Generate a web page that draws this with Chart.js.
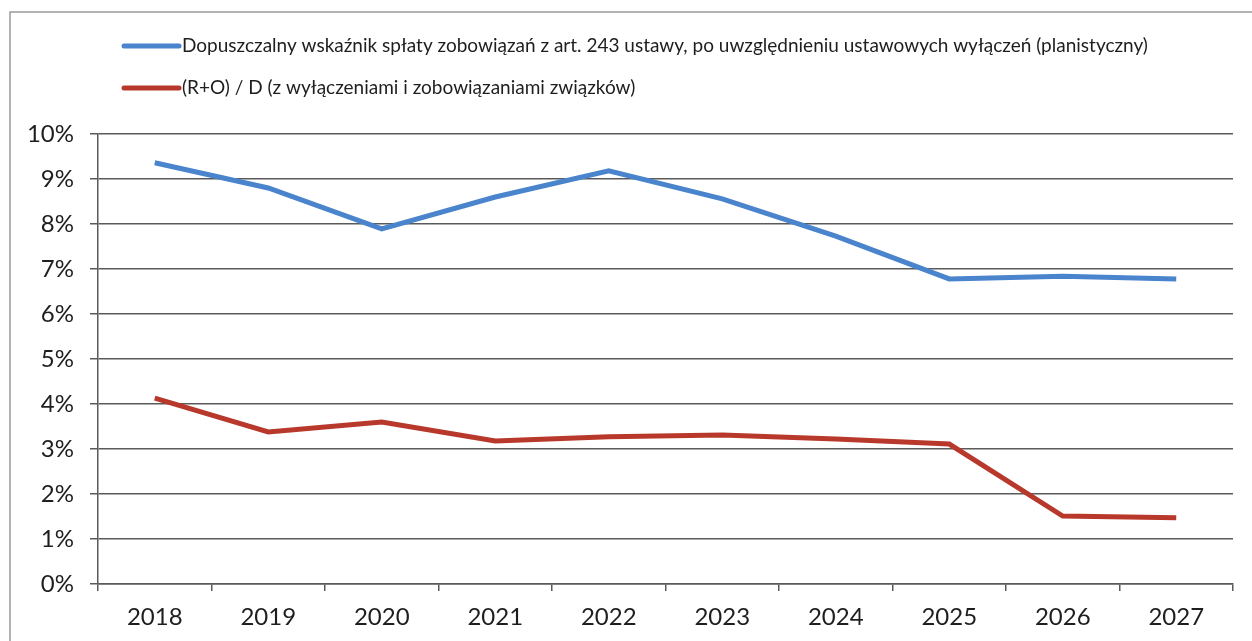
<!DOCTYPE html>
<html>
<head>
<meta charset="utf-8">
<script src="https://cdn.jsdelivr.net/npm/chart.js@4.4.1/dist/chart.umd.min.js"></script>
<style>
  html, body { margin: 0; padding: 0; background: #fff; }
  #wrap { width: 1252px; height: 641px; }
</style>
</head>
<body>
<div id="wrap"><canvas id="lineChart" aria-label="Line Chart"></canvas></div>
<script>
const years = ['2018', '2019', '2020', '2021', '2022', '2023', '2024', '2025', '2026', '2027'];
const allowedRatio = [9.36, 8.80, 7.89, 8.60, 9.18, 8.56, 7.73, 6.78, 6.84, 6.78];
const actualRatio = [4.13, 3.38, 3.60, 3.18, 3.27, 3.31, 3.22, 3.11, 1.51, 1.47];
const seriesNames = [
  'Dopuszczalny wskaźnik spłaty zobowiązań z art. 243 ustawy, po uwzględnieniu ustawowych wyłączeń (planistyczny)',
  '(R+O) / D (z wyłączeniami i zobowiązaniami związków)'
];
const yTicks = [0, 1, 2, 3, 4, 5, 6, 7, 8, 9, 10];

const blue = '#4a84cc';
const red = '#b8392c';
const gridColor = '#5a5a5a';
const textColor = '#1e1e1e';
const fontFamily = 'Lato, "Open Sans", sans-serif';

// legend rows and the frame around the chart
const legendPlugin = {
  id: 'legendRows',
  afterDraw(chart) {
    const ctx = chart.ctx;
    ctx.save();
    ctx.strokeStyle = '#9a9a9a';
    ctx.lineWidth = 1.5;
    ctx.beginPath();
    ctx.moveTo(10, 641);
    ctx.lineTo(10, 12);
    ctx.lineTo(1252, 12);
    ctx.stroke();

    const rows = [46, 88];
    chart.data.datasets.forEach((ds, i) => {
      const y = rows[i];
      ctx.strokeStyle = ds.borderColor;
      ctx.lineWidth = 5;
      ctx.lineCap = 'round';
      ctx.beginPath();
      ctx.moveTo(124, y);
      ctx.lineTo(179, y);
      ctx.stroke();
      ctx.fillStyle = textColor;
      ctx.font = '19px ' + fontFamily;
      ctx.textBaseline = 'middle';
      ctx.textAlign = 'left';
      ctx.fillText(ds.label, 182, y);
    });
    ctx.restore();
  }
};

new Chart(document.getElementById('lineChart'), {
  type: 'line',
  data: {
    labels: years,
    datasets: [
      {
        label: seriesNames[0],
        data: allowedRatio,
        borderColor: blue,
        backgroundColor: blue,
        borderWidth: 5,
        pointRadius: 0,
        tension: 0,
      },
      {
        label: seriesNames[1],
        data: actualRatio,
        borderColor: red,
        backgroundColor: red,
        borderWidth: 5,
        pointRadius: 0,
        tension: 0,
      },
    ],
  },
  options: {
    responsive: true,
    maintainAspectRatio: false,
    animation: false,
    layout: { padding: { top: 134, right: 19, left: 0, bottom: 0 } },
    plugins: {
      legend: { display: false },
      tooltip: { enabled: false },
    },
    scales: {
      x: {
        offset: true,
        afterFit: (s) => { s.height = 57; },
        grid: {
          offset: true,
          drawOnChartArea: false,
          drawTicks: true,
          tickLength: 7,
          color: gridColor,
          lineWidth: 1.5,
        },
        border: { display: true, color: gridColor, width: 1.5 },
        ticks: {
          color: textColor,
          font: { family: fontFamily, size: 24 },
          padding: 12,
          maxRotation: 0,
        },
      },
      y: {
        min: 0,
        max: 10,
        afterFit: (s) => { s.width = 98; },
        afterBuildTicks: (s) => { s.ticks = yTicks.map(v => ({ value: v })); },
        grid: {
          color: gridColor,
          lineWidth: 1.5,
          tickLength: 8,
        },
        border: { display: true, color: gridColor, width: 1.5 },
        ticks: {
          color: textColor,
          font: { family: fontFamily, size: 24 },
          padding: 16,
          callback: (v) => v + '%',
        },
      },
    },
  },
  plugins: [legendPlugin],
});
</script>
</body>
</html>
